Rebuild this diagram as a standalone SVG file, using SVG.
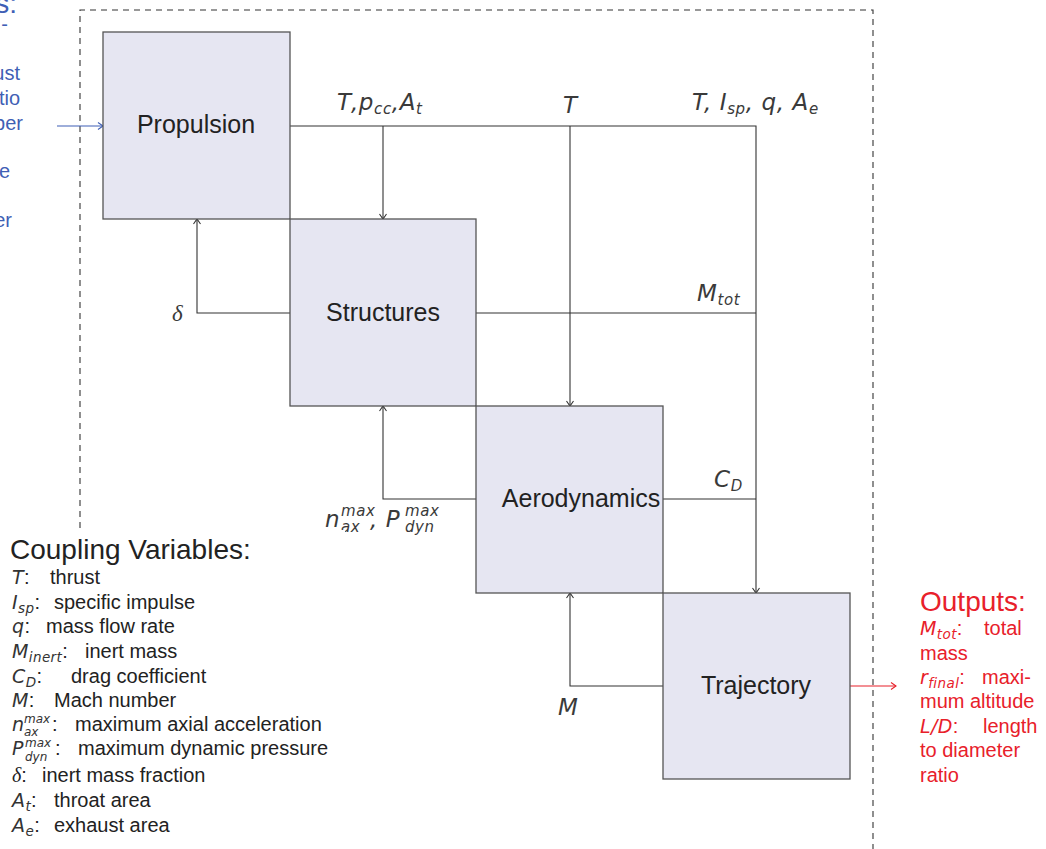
<svg xmlns="http://www.w3.org/2000/svg" width="1046" height="849" viewBox="0 0 1046 849">
<defs>
<style>
.box{fill:#e6e6f2;stroke:#555;stroke-width:1.3}
.lbl{font-family:"Liberation Sans",Arial,sans-serif;font-size:25px;fill:#222;text-anchor:middle}
.m{font-family:"DejaVu Sans",sans-serif;font-style:oblique;font-size:23px;fill:#3a3a3a;letter-spacing:0.6px}
.sub{font-size:15px}
.con{fill:none;stroke:#333;stroke-width:1.1}
.dash{fill:none;stroke:#333;stroke-width:1.1;stroke-dasharray:6 5}
.leg{font-family:"Liberation Sans",Arial,sans-serif;font-size:20px;fill:#222}
.legm{font-family:"DejaVu Sans",sans-serif;font-style:oblique;font-size:19px;fill:#333;letter-spacing:0.4px}
.ls{font-size:13.5px}
.ss{font-size:12px;letter-spacing:0}
.blue{font-family:"Liberation Sans",Arial,sans-serif;font-size:20px;fill:#3f5fb5;text-anchor:end}
.red{font-family:"Liberation Sans",Arial,sans-serif;font-size:20px;fill:#e8202a}
.big{font-size:28px}
</style>
<marker id="ah" markerWidth="10" markerHeight="10" refX="0" refY="0" viewBox="-6 -5 8 10" orient="auto" markerUnits="userSpaceOnUse">
<path d="M-5,-3.5 L0,0 L-5,3.5" fill="none" stroke="#333" stroke-width="1.1"/>
</marker>
<marker id="ahb" markerWidth="10" markerHeight="10" refX="0" refY="0" viewBox="-6 -5 8 10" orient="auto" markerUnits="userSpaceOnUse">
<path d="M-5,-3.5 L0,0 L-5,3.5" fill="none" stroke="#3f5fb5" stroke-width="1.1"/>
</marker>
<marker id="ahr" markerWidth="10" markerHeight="10" refX="0" refY="0" viewBox="-6 -5 8 10" orient="auto" markerUnits="userSpaceOnUse">
<path d="M-5,-3.5 L0,0 L-5,3.5" fill="none" stroke="#e8202a" stroke-width="1.1"/>
</marker>
</defs>
<rect width="1046" height="849" fill="#fff"/>

<g id="frame">
<path class="dash" d="M80,528 L80,10 L873,10 L873,849"/>
</g>

<g id="inputs-text">
<text class="blue big" x="17" y="13">s:</text>
<text class="blue" x="8" y="31">-</text>
<text class="blue" x="20" y="80">ust</text>
<text class="blue" x="20" y="105">tio</text>
<text class="blue" x="23" y="130">ber</text>
<text class="blue" x="10" y="178">e</text>
<text class="blue" x="12" y="227">er</text>
</g>

<g id="connectors">
<path class="con" d="M290,126 L756,126 L756,593" marker-end="url(#ah)"/>
<path class="con" d="M383,126 L383,219" marker-end="url(#ah)"/>
<path class="con" d="M570,126 L570,406" marker-end="url(#ah)"/>
<path class="con" d="M476,313 L756,313"/>
<path class="con" d="M663,499 L756,499"/>
<path class="con" d="M290,313 L197,313 L197,219" marker-end="url(#ah)"/>
<path class="con" d="M476,499 L383,499 L383,406" marker-end="url(#ah)"/>
<path class="con" d="M663,686 L570,686 L570,593" marker-end="url(#ah)"/>
<path d="M57,126 L103,126" fill="none" stroke="#3f5fb5" stroke-width="1.1" marker-end="url(#ahb)"/>
<path d="M850,686 L896,686" fill="none" stroke="#e8202a" stroke-width="1.1" marker-end="url(#ahr)"/>
</g>

<g id="connector-labels">
<text class="m" x="337" y="110">T<tspan dx="2">,</tspan>p<tspan class="sub" dy="4">cc</tspan><tspan dy="-4">,</tspan>A<tspan class="sub" dy="4">t</tspan></text>
<text class="m" x="563" y="113">T</text>
<text class="m" x="692" y="110">T, I<tspan class="sub" dy="4">sp</tspan><tspan dy="-4">, q, A</tspan><tspan class="sub" dy="4">e</tspan></text>
<text class="m" x="697" y="301">M<tspan class="sub" dy="4">tot</tspan></text>
<text class="m" x="172" y="321" style="font-family:'Liberation Serif',serif;font-style:italic">δ</text>
<text class="m" x="714" y="487">C<tspan class="sub" dy="4">D</tspan></text>
<text class="m"><tspan x="325" y="527">n</tspan><tspan class="sub" x="341" y="516">max</tspan><tspan class="sub" x="341" y="532">ax</tspan><tspan x="370" y="527">, P</tspan><tspan class="sub" x="405" y="516">max</tspan><tspan class="sub" x="405" y="532">dyn</tspan></text>
<text class="m" x="558" y="715">M</text>
</g>

<g id="propulsion">
<rect class="box" x="103" y="32" width="187" height="187"/>
<text class="lbl" x="196" y="133">Propulsion</text>
</g>
<g id="structures">
<rect class="box" x="290" y="219" width="186" height="187"/>
<text class="lbl" x="383" y="321">Structures</text>
</g>
<g id="aerodynamics">
<rect class="box" x="476" y="406" width="187" height="187"/>
<text class="lbl" x="581" y="507">Aerodynamics</text>
</g>
<g id="trajectory">
<rect class="box" x="663" y="593" width="187" height="186"/>
<text class="lbl" x="756" y="694">Trajectory</text>
</g>

<g id="legend">
<rect x="0" y="530" width="345" height="319" fill="#fff"/>
<text class="leg big" x="10" y="559">Coupling Variables:</text>
<text class="leg" x="12" y="584"><tspan class="legm">T</tspan>:<tspan x="50">thrust</tspan></text>
<text class="leg" x="12" y="609"><tspan class="legm">I</tspan><tspan class="legm ls" dy="4">sp</tspan><tspan dy="-4">:</tspan><tspan x="54">specific impulse</tspan></text>
<text class="leg" x="12" y="633"><tspan class="legm">q</tspan>:<tspan x="46">mass flow rate</tspan></text>
<text class="leg" x="12" y="658"><tspan class="legm">M</tspan><tspan class="legm ls" dy="4">inert</tspan><tspan dy="-4">:</tspan><tspan x="85">inert mass</tspan></text>
<text class="leg" x="12" y="683"><tspan class="legm">C</tspan><tspan class="legm ls" dy="4">D</tspan><tspan dy="-4">:</tspan><tspan x="71">drag coefficient</tspan></text>
<text class="leg" x="12" y="707"><tspan class="legm">M</tspan>:<tspan x="54">Mach number</tspan></text>
<text class="leg"><tspan class="legm" x="12" y="731">n</tspan><tspan class="legm ss" x="24" y="723">max</tspan><tspan class="legm ss" x="24" y="736">ax</tspan><tspan x="52" y="731">:</tspan><tspan x="75" y="731">maximum axial acceleration</tspan></text>
<text class="leg"><tspan class="legm" x="12" y="755">P</tspan><tspan class="legm ss" x="25" y="747">max</tspan><tspan class="legm ss" x="25" y="761">dyn</tspan><tspan x="55" y="755">:</tspan><tspan x="78" y="755">maximum dynamic pressure</tspan></text>
<text class="leg" x="12" y="782"><tspan style="font-family:'Liberation Serif',serif;font-style:italic">δ</tspan>:<tspan x="42">inert mass fraction</tspan></text>
<text class="leg" x="12" y="807"><tspan class="legm">A</tspan><tspan class="legm ls" dy="4">t</tspan><tspan dy="-4">:</tspan><tspan x="54">throat area</tspan></text>
<text class="leg" x="12" y="832"><tspan class="legm">A</tspan><tspan class="legm ls" dy="4">e</tspan><tspan dy="-4">:</tspan><tspan x="54">exhaust area</tspan></text>
</g>

<g id="outputs">
<text class="red big" x="920" y="611">Outputs:</text>
<text class="red" x="920" y="635"><tspan class="legm" style="fill:#e8202a">M</tspan><tspan class="legm ls" style="fill:#e8202a" dy="4">tot</tspan><tspan dy="-4">:</tspan><tspan x="984">total</tspan></text>
<text class="red" x="920" y="660">mass</text>
<text class="red" x="920" y="684"><tspan class="legm" style="fill:#e8202a">r</tspan><tspan class="legm ls" style="fill:#e8202a" dy="4">final</tspan><tspan dy="-4">:</tspan><tspan x="982">maxi-</tspan></text>
<text class="red" x="920" y="708">mum altitude</text>
<text class="red" x="920" y="733"><tspan class="legm" style="fill:#e8202a">L/D</tspan>:<tspan x="983">length</tspan></text>
<text class="red" x="920" y="757">to diameter</text>
<text class="red" x="920" y="782">ratio</text>
</g>
</svg>
